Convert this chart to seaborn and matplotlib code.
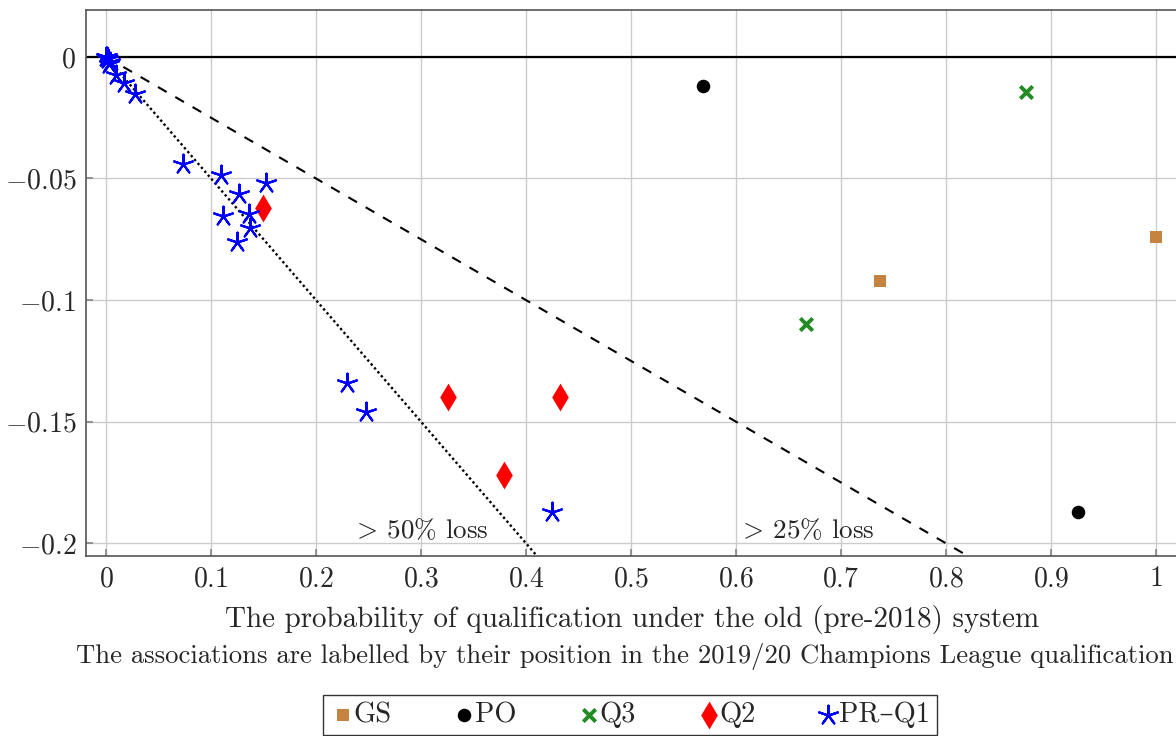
import numpy as np
import pandas as pd
import matplotlib
matplotlib.use('Agg')
import matplotlib.pyplot as plt
import seaborn as sns

sns.set_theme(style='ticks')
plt.rcParams['font.family'] = ['cmr10', 'DejaVu Serif']
plt.rcParams['mathtext.fontset'] = 'cm'
plt.rcParams['axes.unicode_minus'] = False

# Data
groups = ['GS', 'PO', 'Q3', 'Q2', 'PR–Q1']

gs_old = [0.737, 1.000]
gs_change = [-0.0920, -0.0739]

po_old = [0.569, 0.926]
po_change = [-0.0118, -0.1872]

q3_old = [0.877, 0.667]
q3_change = [-0.0145, -0.1100]

q2_old = [0.150, 0.326, 0.433, 0.379]
q2_change = [-0.0623, -0.1400, -0.1398, -0.1720]

prq1_old = [0.000, 0.001, 0.002, 0.004, 0.003, 0.0095, 0.0168, 0.0276,
            0.0736, 0.1092, 0.1524, 0.1267, 0.1117, 0.1365, 0.1371, 0.1244,
            0.2298, 0.2473, 0.4245]
prq1_change = [0.0000, -0.0002, -0.0010, -0.0020, -0.0030, -0.0074, -0.0108, -0.0154,
               -0.0442, -0.0486, -0.0520, -0.0565, -0.0654, -0.0647, -0.0705, -0.0760,
               -0.1342, -0.1462, -0.1870]

loss_slopes = [-0.25, -0.5]
loss_labels = [r'$>\,25\%$ loss', r'$>\,50\%$ loss']
loss_label_x = [0.667, 0.299]

xticks = [0, 0.1, 0.2, 0.3, 0.4, 0.5, 0.6, 0.7, 0.8, 0.9, 1]
yticks = [0, -0.05, -0.1, -0.15, -0.2]

df = pd.concat([
    pd.DataFrame({'old': gs_old, 'change': gs_change, 'group': 'GS'}),
    pd.DataFrame({'old': po_old, 'change': po_change, 'group': 'PO'}),
    pd.DataFrame({'old': q3_old, 'change': q3_change, 'group': 'Q3'}),
    pd.DataFrame({'old': q2_old, 'change': q2_change, 'group': 'Q2'}),
    pd.DataFrame({'old': prq1_old, 'change': prq1_change, 'group': 'PR–Q1'}),
], ignore_index=True)

colors = {'GS': '#c4843f', 'PO': 'black', 'Q3': '#238b23', 'Q2': '#ff0000', 'PR–Q1': '#0000ff'}
markers = {'GS': 's', 'PO': 'o', 'Q3': 'x', 'Q2': 'd', 'PR–Q1': (5, 2, 0)}
sizes = {'GS': 80, 'PO': 95, 'Q3': 80, 'Q2': 200, 'PR–Q1': 200}
widths = {'GS': 0, 'PO': 0, 'Q3': 2.8, 'Q2': 0, 'PR–Q1': 1.6}

fig = plt.figure(figsize=(11.76, 7.36), dpi=100)
ax = fig.add_axes([86 / 1176, 1 - 556 / 736, 1100 / 1176, 546 / 736])

ax.axhline(0, color='black', lw=1.6, zorder=2)
line_x = np.array([0.0, 1.0])
ax.plot(line_x, loss_slopes[0] * line_x, color='black', lw=1.5, dashes=(4.8, 4.8), zorder=2)
ax.plot(line_x, loss_slopes[1] * line_x, color='black', lw=1.7, dashes=(1.0, 1.2), zorder=2)

for g in groups:
    sub = df[df['group'] == g]
    sns.scatterplot(data=sub, x='old', y='change', ax=ax, color=colors[g],
                    marker=markers[g], s=sizes[g], linewidth=widths[g],
                    edgecolor=colors[g] if widths[g] == 0 else None,
                    label=g, zorder=3, legend=True)

for lab, lx in zip(loss_labels, loss_label_x):
    ax.text(lx, -0.1947, lab, ha='center', va='center', fontsize=19.5)

ax.set_xlim(-0.0191, 1.029)
ax.set_ylim(-0.2053, 0.0193)
ax.set_xticks(xticks, labels=[f'${v:g}$' for v in xticks])
ax.set_yticks(yticks, labels=[f'${v:g}$' for v in yticks])
ax.tick_params(direction='in', length=5, color='#888888', labelsize=20, pad=7)
ax.grid(True, color='#cccccc', lw=1)
ax.set_axisbelow(True)
for sp in ax.spines.values():
    sp.set_color('#555555')
    sp.set_linewidth(1.2)
ax.set_xlabel('')
ax.set_ylabel('')

fig.text(632 / 1176, 1 - 619 / 736, 'The probability of qualification under the old (pre-2018) system',
         ha='center', va='center', fontsize=20.9)
fig.text(625 / 1176, 1 - 656 / 736,
         'The associations are labelled by their position in the 2019/20 Champions League qualification',
         ha='center', va='center', fontsize=19.2)

handles, labels = ax.get_legend_handles_labels()
ax.get_legend().remove()
leg = fig.legend(handles, labels, loc='upper center', bbox_to_anchor=(630 / 1176, 1 - 689 / 736),
                 ncol=5, frameon=True, fancybox=False, edgecolor='black', fontsize=20.5,
                 handletextpad=-0.08, columnspacing=2.1, handlelength=0.9, borderpad=0.25,
                 borderaxespad=0.2, markerscale=1.0)
leg.get_frame().set_linewidth(1.0)

fig.savefig('out.png', dpi=100)
